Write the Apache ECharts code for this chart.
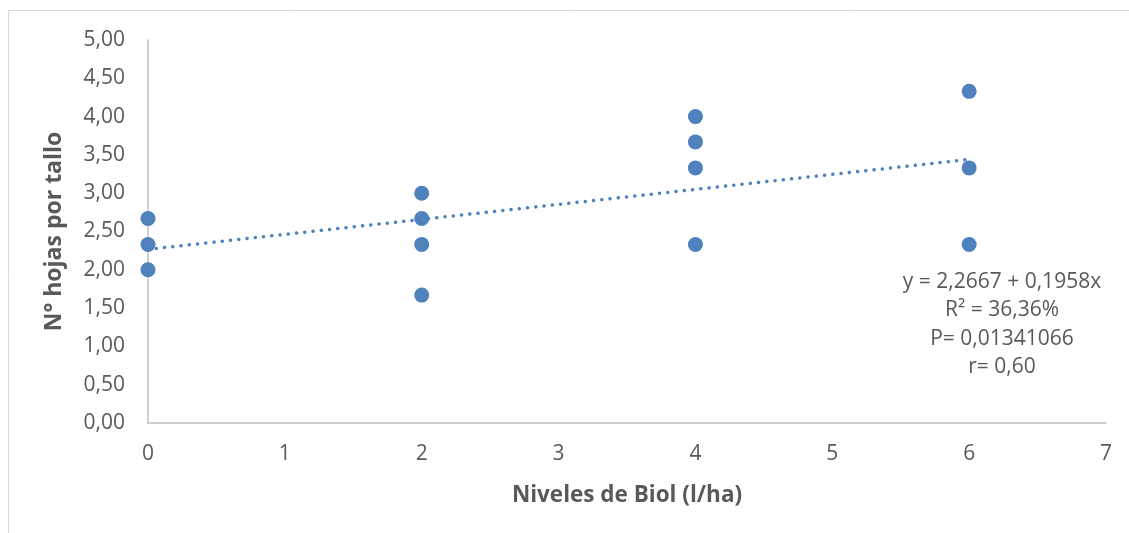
<!DOCTYPE html>
<html>
<head>
<meta charset="utf-8">
<script src="https://cdn.jsdelivr.net/npm/echarts@6/dist/echarts.min.js"></script>
<style>
  html, body { margin: 0; padding: 0; background: #fff; }
  #chart { width: 1129px; height: 533px; }
</style>
</head>
<body>
<div id="chart"></div>
<script>
// datos
var niveles = [0, 0, 0, 2, 2, 2, 2, 4, 4, 4, 4, 6, 6, 6];
var hojas = [2.67, 2.33, 2.00, 3.00, 2.67, 2.33, 1.67, 4.00, 3.67, 3.33, 2.33, 4.33, 3.33, 2.33];
var tendenciaX = [0, 6];
var tendenciaY = [2.2667, 3.4415];
var textos = ["y = 2,2667 + 0,1958x", "R² = 36,36%", "P= 0,01341066", "r= 0,60"];

var fuente = "Open Sans";
var gris = "#595959";

var puntos = niveles.map(function(x, i) { return [x, hojas[i]]; });
var linea = tendenciaX.map(function(x, i) { return [x, tendenciaY[i]]; });

var chart = echarts.init(document.getElementById("chart"));
var option = {
    backgroundColor: "#FFFFFF",
    animation: false,
    grid: {
        left: 148,
        top: 40,
        right: 23,
        bottom: 110
    },
    xAxis: {
        type: "value",
        min: 0,
        max: 7,
        interval: 1,
        name: "Niveles de Biol (l/ha)",
        nameLocation: "middle",
        nameGap: 61,
        nameTextStyle: {
            color: gris,
            fontFamily: fuente,
            fontSize: 22.5,
            fontWeight: "bold"
        },
        axisLine: { lineStyle: { color: "#bfbfbf", width: 1.5 } },
        axisTick: { show: false },
        splitLine: { show: false },
        axisLabel: {
            color: gris,
            fontFamily: fuente,
            fontSize: 21,
            margin: 21
        }
    },
    yAxis: {
        type: "value",
        min: 0,
        max: 5,
        interval: 0.5,
        name: "N° hojas por tallo",
        nameLocation: "middle",
        nameGap: 82,
        nameTextStyle: {
            color: gris,
            fontFamily: fuente,
            fontSize: 23,
            fontWeight: "bold"
        },
        axisLine: { show: true, lineStyle: { color: "#bfbfbf", width: 1.5 } },
        axisTick: { show: false },
        splitLine: { show: false },
        axisLabel: {
            color: gris,
            fontFamily: fuente,
            fontSize: 21,
            margin: 23,
            formatter: function(v) { return v.toFixed(2).replace(".", ","); }
        }
    },
    graphic: [
        {
            type: "rect",
            shape: { x: 8.5, y: 10.5, width: 1200, height: 600 },
            style: { fill: "none", stroke: "#d9d9d9", lineWidth: 1 },
            silent: true
        }
    ].concat(textos.map(function(t, i) {
        return {
            type: "text",
            x: 1002,
            y: 282 + i * 28.5,
            style: {
                text: t,
                fill: gris,
                font: "21px " + fuente,
                textAlign: "center",
                textVerticalAlign: "middle"
            }
        };
    })),
    series: [
        {
            name: "Tendencia",
            type: "line",
            data: linea,
            symbol: "none",
            lineStyle: { color: "#4f81bd", width: 3.5, type: [0.1, 8.2], cap: "round" },
            z: 3
        },
        {
            name: "Hojas",
            type: "scatter",
            data: puntos,
            symbolSize: 15,
            itemStyle: { color: "#4f81bd", opacity: 1 },
            z: 2
        }
    ]
};
chart.setOption(option);
</script>
</body>
</html>
